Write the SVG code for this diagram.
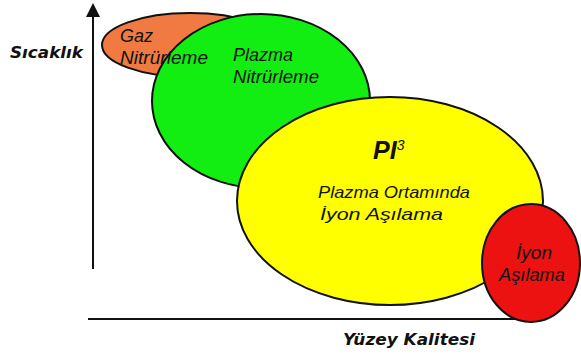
<svg xmlns="http://www.w3.org/2000/svg" width="581" height="356" viewBox="0 0 581 356">
<defs>
<style>
.shape{stroke:#111;stroke-width:2}
.lbl{font-family:"Liberation Sans",Arial,sans-serif;font-style:italic;fill:#111}
.axl{font-family:"DejaVu Sans",Verdana,sans-serif;font-weight:bold;font-style:italic;fill:#111;font-size:16.5px}
.axis{stroke:#111;stroke-width:2;fill:none}
</style>
</defs>
<rect width="581" height="356" fill="#fff"/>
<g id="axes">
<line class="axis" x1="93" y1="14" x2="93" y2="269"/>
<polygon points="93,3 86,17 100,17" fill="#111"/>
<line class="axis" x1="88" y1="319" x2="515" y2="319"/>
</g>
<g id="gaz-nitrurleme">
<ellipse class="shape" cx="190" cy="45" rx="88" ry="32" fill="#F07A42"/>
</g>
<g id="plazma-nitrurleme">
<ellipse class="shape" cx="261" cy="101" rx="109" ry="87" fill="#12EE12"/>
</g>
<g id="pi3">
<ellipse class="shape" cx="390" cy="201" rx="153" ry="104" fill="#FFFF00"/>
</g>
<g id="iyon-asilama">
<ellipse class="shape" cx="531" cy="263" rx="49" ry="59" fill="#EC1212"/>
</g>
<g id="labels">
<text class="axl" x="10" y="58" textLength="73" lengthAdjust="spacingAndGlyphs">Sıcaklık</text>
<text class="axl" x="343" y="345" textLength="132" lengthAdjust="spacingAndGlyphs">Yüzey Kalitesi</text>
<text class="lbl" x="120" y="42" font-size="18">Gaz</text>
<text class="lbl" x="120" y="64" font-size="18" textLength="88" lengthAdjust="spacingAndGlyphs">Nitrürleme</text>
<text class="lbl" x="233" y="61" font-size="18" textLength="60" lengthAdjust="spacingAndGlyphs">Plazma</text>
<text class="lbl" x="233" y="83" font-size="18" textLength="86" lengthAdjust="spacingAndGlyphs">Nitrürleme</text>
<text class="lbl" x="373" y="159" font-size="25" font-weight="bold">PI<tspan font-size="14" font-weight="normal" dy="-9">3</tspan></text>
<text class="lbl" x="318" y="198" font-size="17" textLength="152" lengthAdjust="spacingAndGlyphs">Plazma Ortamında</text>
<text class="lbl" x="320" y="220" font-size="17" textLength="123" lengthAdjust="spacingAndGlyphs">İyon Aşılama</text>
<text class="lbl" x="516" y="259" font-size="18" textLength="36" lengthAdjust="spacingAndGlyphs">İyon</text>
<text class="lbl" x="499" y="281" font-size="18" textLength="66" lengthAdjust="spacingAndGlyphs">Aşılama</text>
</g>
</svg>
